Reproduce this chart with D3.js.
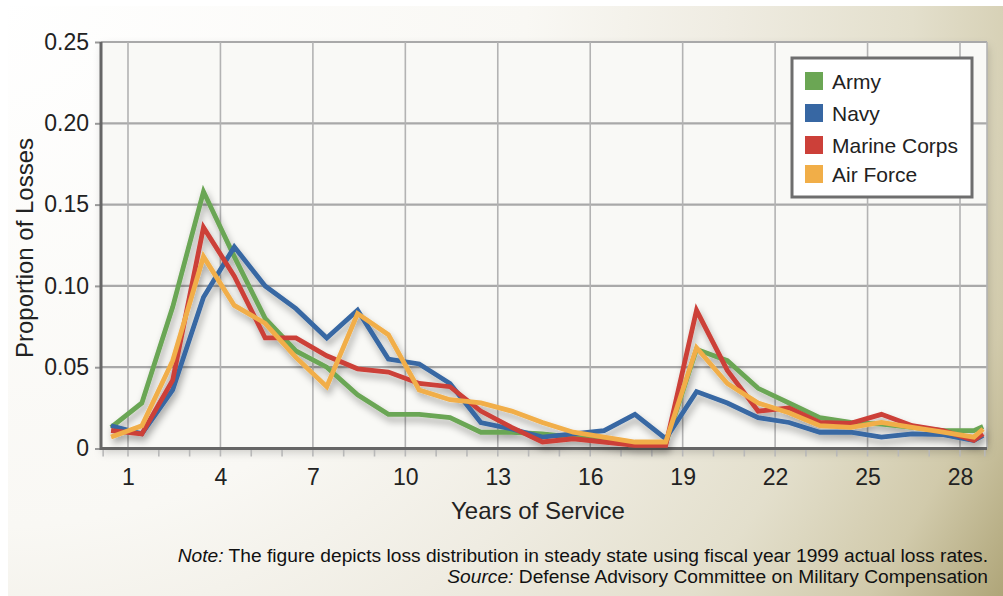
<!DOCTYPE html>
<html><head><meta charset="utf-8">
<script src="https://cdn.jsdelivr.net/npm/d3@7/dist/d3.min.js"></script>
<style>
html,body{margin:0;padding:0;background:#fff;}
svg{display:block;font-family:"Liberation Sans",Arial,Helvetica,sans-serif;}
</style></head><body>
<svg id="chart" width="1003" height="596"></svg>
<script>
// ---- data ----
const years = [0.45,1.45,2.45,3.45,4.45,5.45,6.45,7.45,8.45,9.45,10.45,11.45,12.45,13.45,14.45,15.45,16.45,17.45,18.45,19.45,20.45,21.45,22.45,23.45,24.45,25.45,26.45,27.45,28.45,28.75];
const army   = [0.013,0.028,0.087,0.158,0.118,0.080,0.060,0.050,0.033,0.021,0.021,0.019,0.010,0.010,0.009,0.007,0.005,0.003,0.003,0.061,0.054,0.037,0.028,0.019,0.016,0.015,0.013,0.011,0.011,0.0135];
const navy   = [0.014,0.009,0.036,0.093,0.124,0.100,0.086,0.068,0.085,0.055,0.052,0.040,0.016,0.012,0.007,0.009,0.011,0.021,0.006,0.035,0.028,0.019,0.016,0.010,0.010,0.007,0.009,0.0085,0.005,0.008];
const marine = [0.011,0.009,0.042,0.136,0.106,0.068,0.068,0.057,0.049,0.047,0.040,0.038,0.023,0.013,0.004,0.006,0.004,0.002,0.002,0.085,0.048,0.023,0.025,0.016,0.0155,0.021,0.014,0.011,0.005,0.009];
const airforce = [0.007,0.014,0.054,0.118,0.088,0.077,0.056,0.038,0.083,0.070,0.036,0.030,0.028,0.023,0.016,0.010,0.007,0.004,0.004,0.062,0.040,0.028,0.022,0.014,0.013,0.016,0.013,0.010,0.007,0.012];
const seriesNames = ["Army","Navy","Marine Corps","Air Force"];
const seriesColors = ["#6ba654","#3767a3","#cc4039","#f1ae48"];
const xTickValues = [1,4,7,10,13,16,19,22,25,28];
const yTickValues = [0,0.05,0.10,0.15,0.20,0.25];
const xDomain = [0.124, 28.876];
const yDomain = [0, 0.25];
const xTitle = "Years of Service";
const yTitle = "Proportion of Losses";
const noteLabel = "Note:";
const noteText = " The figure depicts loss distribution in steady state using fiscal year 1999 actual loss rates.";
const sourceLabel = "Source:";
const sourceText = " Defense Advisory Committee on Military Compensation";

const series = [army, navy, marine, airforce];

// ---- layout ----
const svg = d3.select("#chart");
const L = 101, R = 987, T = 42, B = 448.5;
const x = d3.scaleLinear().domain(xDomain).range([L, R]);
const y = d3.scaleLinear().domain(yDomain).range([B, T]);

const defs = svg.append("defs");
const bg = defs.append("radialGradient").attr("id","bg")
  .attr("gradientUnits","userSpaceOnUse").attr("cx",0).attr("cy",0).attr("r",1170).attr("fx",0).attr("fy",0);
[[0,"#ffffff"],[0.45,"#f9f8f4"],[0.62,"#efece2"],[0.78,"#e3dfcc"],[0.9,"#d1caab"],[1,"#aea477"]]
  .forEach(([o,c])=>bg.append("stop").attr("offset",o).attr("stop-color",c));
const sh = defs.append("filter").attr("id","shadow").attr("x","-5%").attr("y","-10%").attr("width","115%").attr("height","130%");
sh.append("feDropShadow").attr("dx",2).attr("dy",5).attr("stdDeviation",3.5).attr("flood-color","#000").attr("flood-opacity",0.33);
const psh = defs.append("filter").attr("id","pshadow").attr("x","-5%").attr("y","-5%").attr("width","110%").attr("height","115%");
psh.append("feDropShadow").attr("dx",1).attr("dy",4).attr("stdDeviation",4).attr("flood-color","#000").attr("flood-opacity",0.18);

svg.append("rect").attr("x",8).attr("y",6).attr("width",995).attr("height",590).attr("fill","url(#bg)");

// plot background
svg.append("rect").attr("x",L).attr("y",T).attr("width",R-L).attr("height",B-T)
  .attr("fill","#f9f9f6").attr("filter","url(#pshadow)");

// grid
const grid = svg.append("g");
grid.selectAll("line.h").data(yTickValues.filter(d=>d>0)).join("line")
  .attr("x1",L).attr("x2",R).attr("y1",d=>y(d)).attr("y2",d=>y(d))
  .attr("stroke","#a9a9a9").attr("stroke-width",2.2);
grid.selectAll("line.v").data(xTickValues.concat([xDomain[1]])).join("line")
  .attr("x1",d=>x(d)).attr("x2",d=>x(d)).attr("y1",T).attr("y2",B)
  .attr("stroke","#b3b3b3").attr("stroke-width",1.6);

// minor x ticks
const minor = d3.range(1,29).concat(xDomain.map((d,i)=> i===0 ? d+0.07 : d-0.07));
svg.append("g").selectAll("line").data(minor).join("line")
  .attr("x1",d=>x(d)).attr("x2",d=>x(d)).attr("y1",B).attr("y2",B+8)
  .attr("stroke","#b8b8b8").attr("stroke-width",1.6);

// axes
const xAxis = svg.append("g").attr("transform",`translate(0,${B})`)
  .call(d3.axisBottom(x).tickValues(xTickValues).tickSize(0).tickPadding(20).tickFormat(d3.format("d")));
xAxis.select(".domain").remove();
xAxis.selectAll("text").attr("font-size",23).attr("fill","#222").attr("font-family","Liberation Sans, Arial, sans-serif");

const yAxis = svg.append("g").attr("transform",`translate(${L},0)`)
  .call(d3.axisLeft(y).tickValues(yTickValues).tickSize(6).tickPadding(6)
    .tickFormat(d=> d===0 ? "0" : d3.format(".2f")(d)));
yAxis.select(".domain").remove();
yAxis.selectAll(".tick line").attr("stroke","#999").attr("stroke-width",2);
yAxis.selectAll("text").attr("font-size",23).attr("fill","#222").attr("font-family","Liberation Sans, Arial, sans-serif");

// axis lines
svg.append("line").attr("x1",L).attr("x2",R).attr("y1",B).attr("y2",B).attr("stroke","#666").attr("stroke-width",3);
svg.append("line").attr("x1",L).attr("x2",L).attr("y1",T).attr("y2",B+1.5).attr("stroke","#666").attr("stroke-width",3);

// lines
const line = d3.line().x((d,i)=>x(years[i])).y(d=>y(d));
svg.append("g").attr("filter","url(#shadow)")
  .selectAll("path").data(series).join("path")
  .attr("d",line).attr("fill","none")
  .attr("stroke",(d,i)=>seriesColors[i]).attr("stroke-width",4.8)
  .attr("stroke-linejoin","miter").attr("stroke-miterlimit",3);

// legend
const lg = svg.append("g");
lg.append("rect").attr("x",792).attr("y",58).attr("width",180).attr("height",139)
  .attr("fill","#fff").attr("stroke","#6e6e6e").attr("stroke-width",3);
const rowsY = [81,113,145,174];
seriesNames.forEach((n,i)=>{
  lg.append("rect").attr("x",805).attr("y",rowsY[i]-9).attr("width",18).attr("height",18).attr("fill",seriesColors[i]);
  lg.append("text").attr("x",832).attr("y",rowsY[i]+7.5).attr("font-size",21).attr("fill","#222").text(n);
});

// titles
svg.append("text").attr("x",538).attr("y",519).attr("text-anchor","middle")
  .attr("font-size",24).attr("fill","#222").text(xTitle);
svg.append("text").attr("transform","translate(33,248) rotate(-90)").attr("text-anchor","middle")
  .attr("font-size",24).attr("fill","#222").text(yTitle);

// notes
const n1 = svg.append("text").attr("x",988).attr("y",562).attr("text-anchor","end").attr("font-size",19.2).attr("fill","#111");
n1.append("tspan").attr("font-style","italic").text(noteLabel);
n1.append("tspan").text(noteText);
const n2 = svg.append("text").attr("x",988).attr("y",583).attr("text-anchor","end").attr("font-size",19.2).attr("fill","#111");
n2.append("tspan").attr("font-style","italic").text(sourceLabel);
n2.append("tspan").text(sourceText);
</script>
</body></html>
